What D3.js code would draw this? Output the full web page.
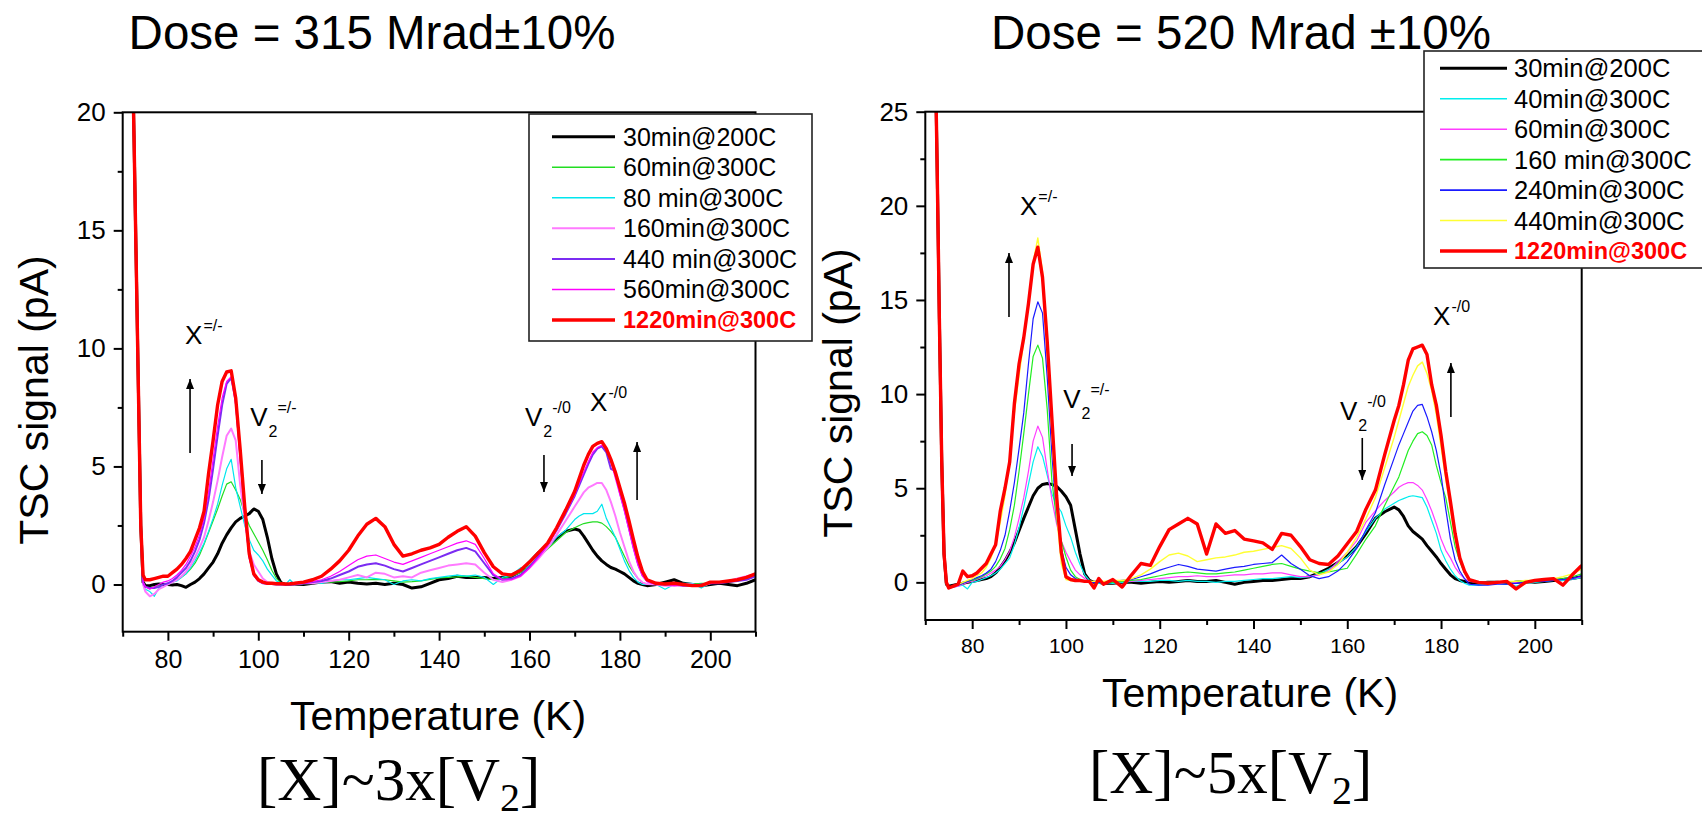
<!DOCTYPE html>
<html>
<head>
<meta charset="utf-8">
<script src="https://cdn.jsdelivr.net/npm/d3@7"></script>
<style>
  html, body { margin: 0; padding: 0; background: #ffffff; }
  svg { display: block; }
  text { font-family: "Liberation Sans", Arial, Helvetica, sans-serif; fill: #000; }
</style>
</head>
<body>
<svg id="chart" width="1702" height="825"></svg>
<script>
// ---------------------------------------------------------------
// Temperature grid (K) shared by every TSC scan
// ---------------------------------------------------------------
const temps = [
  71, 72, 72.5, 73, 73.5, 74, 74.5, 75,
  76, 77, 78, 79, 80, 81, 82, 83, 84, 85, 86, 87, 88, 89, 90, 91, 92, 93, 94, 95,
  96, 97, 98, 99, 100, 101, 102, 103, 104, 105, 106, 107, 108,
  110, 112, 114, 116, 118, 120, 122, 124, 126, 128, 130, 132, 134, 136, 138, 140,
  142, 144, 146, 148, 150, 152, 154, 156, 158, 160, 162, 164, 166, 168, 170,
  171, 172, 173, 174, 175, 176, 177, 178, 179, 180, 181, 182, 183, 184, 185, 186,
  188, 190, 192, 194, 196, 198, 200, 202, 204, 206, 208, 210
];

// ---------------------------------------------------------------
// Dose = 315 Mrad : TSC signal (pA) after each anneal step
// ---------------------------------------------------------------
const d315_30min200C = [
  35, 24, 19, 13.5, 8, 2.5, 0.1, -0.05,
  -0.05, 0, 0.02, 0, 0, -0.02, 0, -0.05, -0.12, 0, 0.1, 0.25, 0.45, 0.7, 0.95, 1.3, 1.75, 2.1, 2.4, 2.65,
  2.8, 2.9, 3.0, 3.2, 3.1, 2.75, 2.0, 1.1, 0.45, 0.08, 0, 0, 0.02,
  0, 0.05, 0.1, 0.12, 0.05, 0.1, 0.05, 0.02, 0.05, 0, 0.05, 0, -0.15, -0.1, 0.05, 0.2,
  0.25, 0.35, 0.3, 0.3, 0.3, 0.25, 0.3, 0.35, 0.55, 0.95, 1.35, 1.65, 1.95, 2.25, 2.35,
  2.3, 2.05, 1.75, 1.45, 1.2, 1.0, 0.85, 0.72, 0.65, 0.55, 0.45, 0.3, 0.15, 0.05, 0, -0.05,
  0, 0.1, 0.2, 0.05, 0, -0.05, 0, 0.05, 0, -0.05, 0.05, 0.2
];
const d315_60min300C = [
  35, 24, 19, 13.5, 8, 2.5, 0.1, -0.1,
  -0.15, -0.1, -0.05, 0, 0.05, 0.1, 0.2, 0.3, 0.45, 0.65, 0.9, 1.25, 1.7, 2.2, 2.7, 3.2, 3.75, 4.25, 4.35, 4.0,
  3.6, 3.0, 2.5, 2.15, 1.8, 1.45, 1.05, 0.6, 0.25, 0.08, 0.03, 0.02, 0.03,
  0.03, 0.05, 0.08, 0.1, 0.12, 0.15, 0.2, 0.2, 0.22, 0.2, 0.15, 0.1, 0.12, 0.15, 0.22, 0.28,
  0.3, 0.32, 0.35, 0.3, 0.25, 0.2, 0.25, 0.35, 0.5, 0.8, 1.15, 1.5, 1.85, 2.2, 2.4,
  2.5, 2.58, 2.62, 2.65, 2.65, 2.6, 2.45, 2.25, 2.0, 1.6, 1.2, 0.8, 0.5, 0.25, 0.08, 0.02,
  0, 0, 0.02, 0, 0.02, 0.05, 0.05, 0.1, 0.1, 0.15, 0.25, 0.35
];
const d315_80min300C = [
  35, 24, 19, 13.5, 8, 2.5, 0, -0.2,
  -0.3, -0.5, -0.15, -0.1, 0, 0.1, 0.15, 0.3, 0.45, 0.7, 1.0, 1.35, 1.75, 2.25, 2.8, 3.4, 4.2, 4.9, 5.3, 4.1,
  3.3, 2.5, 1.9, 1.45, 1.25, 1.0, 0.65, 0.4, 0.15, 0.05, 0, 0.2, 0,
  0.05, 0.1, 0.05, 0.15, 0.2, 0.2, 0.25, 0.3, 0.25, 0.2, 0.0, 0.15, 0.2, 0.15, 0.25, 0.3,
  0.35, 0.4, 0.35, 0.4, 0.3, 0.0, 0.3, 0.4, 0.7, 0.75, 1.2, 1.55, 2.0, 2.3, 2.75,
  2.9, 3.0, 3.0, 3.0, 3.1, 3.4, 2.8, 2.4, 2.0, 1.5, 1.0, 0.6, 0.3, 0.1, 0, 0,
  0, -0.2, 0, 0.05, 0.05, -0.15, 0.05, 0.1, 0.15, 0.2, 0.3, 0.4
];
const d315_160min300C = [
  35, 24, 19, 13.5, 8, 2.5, 0, -0.3,
  -0.5, -0.4, -0.2, -0.1, 0, 0.1, 0.2, 0.35, 0.55, 0.8, 1.15, 1.55, 2.0, 2.7, 3.5, 4.4, 5.4, 6.3, 6.6, 6.1,
  4.2, 2.8, 1.4, 0.85, 0.55, 0.25, 0.1, 0.05, 0.02, 0, 0, 0, 0,
  0.05, 0.05, 0.1, 0.15, 0.2, 0.3, 0.4, 0.3, 0.5, 0.45, 0.3, 0.35, 0.3, 0.5, 0.6, 0.7,
  0.8, 0.85, 0.9, 0.85, 0.5, 0.2, 0.1, 0.2, 0.35, 0.7, 1.1, 1.55, 2.1, 2.7, 3.3,
  3.6, 3.9, 4.1, 4.2, 4.3, 4.3, 4.0, 3.5, 2.9, 2.2, 1.6, 1.0, 0.55, 0.25, 0.08, 0.02,
  0, -0.05, -0.05, 0, 0, -0.05, 0.05, 0.1, 0.15, 0.25, 0.35, 0.45
];
const d315_440min300C = [
  35, 24, 19, 13.5, 8, 2.5, 0.1, -0.1,
  -0.15, -0.15, -0.1, 0, 0.05, 0.15, 0.3, 0.5, 0.7, 1.0, 1.4, 1.9, 2.6, 3.6, 4.9, 6.3, 7.6, 8.5, 8.75, 7.8,
  5.5, 3.1, 1.2, 0.4, 0.15, 0.05, 0.03, 0.02, 0, 0, 0, 0, 0.02,
  0.05, 0.1, 0.15, 0.25, 0.4, 0.55, 0.75, 0.85, 0.9, 0.8, 0.65, 0.55, 0.7, 0.85, 1.0, 1.15,
  1.3, 1.45, 1.55, 1.4, 0.9, 0.4, 0.2, 0.25, 0.4, 0.75, 1.2, 1.7, 2.3, 3.0, 3.75,
  4.2, 4.65, 5.1, 5.5, 5.75, 5.85, 5.6, 4.9, 4.8, 3.9, 3.2, 2.4, 1.6, 0.9, 0.4, 0.15,
  0.02, 0, 0, -0.05, -0.05, 0, 0.05, 0.05, 0.1, 0.15, 0.2, 0.35
];
const d315_560min300C = [
  35, 24, 19, 13.5, 8, 2.5, 0.1, -0.1,
  -0.2, -0.1, 0, 0.1, 0.15, 0.25, 0.4, 0.6, 0.85, 1.2, 1.6, 2.1, 2.8, 3.9, 5.3, 6.7, 7.9, 8.6, 8.8, 7.6,
  5.2, 2.9, 1.1, 0.4, 0.15, 0.05, 0.03, 0.02, 0, 0, 0, 0, 0.02,
  0.05, 0.12, 0.2, 0.35, 0.55, 0.8, 1.05, 1.2, 1.25, 1.1, 0.95, 0.85, 1.0, 1.15, 1.3, 1.45,
  1.6, 1.75, 1.85, 1.7, 1.1, 0.45, 0.2, 0.2, 0.35, 0.7, 1.15, 1.65, 2.3, 3.05, 3.8,
  4.3, 4.75, 5.2, 5.6, 5.8, 5.9, 5.7, 5.2, 4.5, 3.8, 3.1, 2.3, 1.5, 0.8, 0.35, 0.12,
  0, 0, -0.05, -0.05, 0, 0, 0.05, 0.1, 0.15, 0.2, 0.3, 0.4
];
const d315_1220min300C = [
  35, 24, 19, 13.5, 8, 2.5, 0.4, 0.2,
  0.2, 0.25, 0.3, 0.35, 0.35, 0.5, 0.65, 0.85, 1.1, 1.4, 1.9, 2.4, 3.1, 4.7, 6.1, 7.6, 8.6, 9.0, 9.05, 7.9,
  5.7, 3.3, 1.3, 0.45, 0.2, 0.1, 0.05, 0.05, 0.03, 0.03, 0.02, 0.03, 0.05,
  0.1, 0.2, 0.35, 0.65, 1.0, 1.45, 2.05, 2.55, 2.8, 2.45, 1.7, 1.2, 1.3, 1.45, 1.55, 1.7,
  2.0, 2.25, 2.45, 2.05, 1.35, 0.75, 0.45, 0.4, 0.6, 0.95, 1.35, 1.75, 2.4, 3.15, 3.95,
  4.5, 5.05, 5.5, 5.85, 5.98, 6.05, 5.75, 5.3, 4.75, 4.1, 3.45, 2.7, 1.9, 1.15, 0.55, 0.2,
  0.05, 0.02, 0.05, 0, -0.05, -0.05, 0.1, 0.1, 0.15, 0.2, 0.3, 0.45
];

// ---------------------------------------------------------------
// Dose = 520 Mrad : TSC signal (pA) after each anneal step
// ---------------------------------------------------------------
const d520_30min200C = [
  45, 30, 22.5, 14, 6.5, 1.5, -0.1, -0.2,
  -0.15, -0.1, -0.05, 0, 0.05, 0.1, 0.15, 0.2, 0.3, 0.5, 0.8, 1.15, 1.6, 2.1, 2.75, 3.4, 4.0, 4.6, 5.0, 5.2,
  5.25, 5.2, 5.1, 4.85, 4.55, 4.1, 2.8, 1.5, 0.45, 0.1, 0, 0, -0.05,
  -0.05, 0, 0, -0.05, 0, 0.05, 0, 0.05, 0.1, 0.05, 0.05, 0.1, 0, -0.1, 0, 0.05,
  0.1, 0.1, 0.15, 0.2, 0.2, 0.3, 0.5, 0.75, 1.05, 1.4, 1.9, 2.6, 3.4, 3.75, 4.0,
  3.85, 3.5, 3.0, 2.7, 2.5, 2.3, 1.95, 1.65, 1.35, 1.0, 0.7, 0.4, 0.2, 0.1, 0.05, 0,
  -0.05, 0, 0, -0.05, 0, 0.05, 0, 0.05, 0.1, 0.15, 0.2, 0.3
];
const d520_40min300C = [
  45, 30, 22.5, 14, 6.5, 1.5, -0.1, -0.3,
  -0.25, -0.2, -0.15, -0.35, 0, 0.05, 0.15, 0.25, 0.35, 0.5, 0.7, 1.0, 1.3, 2.0, 2.9, 4.0, 5.2, 6.4, 7.2, 6.7,
  5.7, 4.7, 4.1, 3.75, 3.0, 2.4, 1.6, 0.95, 0.4, 0.1, 0, -0.05, 0,
  -0.05, 0, 0.05, 0.05, 0.05, 0.1, 0.1, 0.05, 0.1, 0.05, 0.05, 0, 0.05, 0.05, 0.1, 0.15,
  0.2, 0.2, 0.25, 0.3, 0.25, 0.3, 0.45, 0.7, 1.0, 1.35, 1.9, 2.7, 3.4, 3.9, 4.2,
  4.35, 4.45, 4.55, 4.6, 4.55, 4.5, 4.0, 3.3, 2.6, 1.7, 1.15, 0.7, 0.35, 0.1, -0.05, -0.15,
  -0.15, -0.1, -0.05, -0.1, -0.2, -0.05, 0, 0.05, 0.1, 0.1, 0.15, 0.25
];
const d520_60min300C = [
  45, 30, 22.5, 14, 6.5, 1.5, -0.1, -0.3,
  -0.25, -0.2, -0.1, 0, 0.05, 0.15, 0.25, 0.35, 0.5, 0.65, 0.85, 1.2, 1.65, 2.4, 3.4, 4.5, 5.9, 7.5, 8.3, 7.7,
  6.0, 4.4, 3.1, 2.2, 1.6, 1.1, 0.65, 0.4, 0.2, 0.05, 0, 0, 0,
  0, 0.05, 0.05, 0.1, 0.15, 0.2, 0.25, 0.3, 0.3, 0.35, 0.3, 0.3, 0.35, 0.4, 0.4, 0.45,
  0.45, 0.5, 0.5, 0.4, 0.3, 0.3, 0.4, 0.6, 1.1, 1.6, 2.2, 3.2, 3.8, 4.35, 4.8,
  5.05, 5.2, 5.3, 5.3, 5.15, 4.9, 4.4, 3.8, 3.1, 2.3, 1.7, 1.3, 0.8, 0.45, 0.2, 0.05,
  0, 0, -0.05, 0, 0, 0.05, 0.05, 0.1, 0.1, 0.15, 0.2, 0.3
];
const d520_160min300C = [
  45, 30, 22.5, 14, 6.5, 1.5, -0.1, -0.3,
  -0.2, -0.15, -0.05, 0.05, 0.1, 0.2, 0.3, 0.45, 0.6, 0.85, 1.25, 1.8, 2.8, 4.1, 5.9, 7.9, 10.0, 12.0, 12.6, 11.9,
  9.2, 5.4, 3.3, 2.2, 1.35, 0.65, 0.3, 0.15, 0.1, 0.05, 0, 0, 0,
  0, 0.05, 0.1, 0.15, 0.25, 0.35, 0.45, 0.5, 0.55, 0.5, 0.45, 0.45, 0.5, 0.55, 0.65, 0.75,
  0.85, 0.95, 1.0, 0.85, 0.7, 0.6, 0.5, 0.55, 0.65, 0.75, 1.5, 2.3, 3.0, 4.1, 5.1,
  5.6, 6.3, 7.0, 7.5, 7.9, 8.0, 7.8, 7.3, 6.2, 5.3, 4.5, 3.2, 1.9, 1.1, 0.5, 0.1,
  0, -0.05, 0, 0, 0.05, 0.05, 0.05, 0.1, 0.15, 0.2, 0.3, 0.45
];
const d520_240min300C = [
  45, 30, 22.5, 14, 6.5, 1.5, -0.1, -0.3,
  -0.2, -0.15, -0.05, 0.05, 0.15, 0.25, 0.35, 0.5, 0.7, 1.1, 1.7, 2.5, 3.8, 5.3, 7.1, 9.0, 11.6, 14.0, 14.9, 14.3,
  10.9, 6.8, 3.4, 1.8, 0.8, 0.4, 0.2, 0.1, 0.05, 0, 0, 0, 0,
  0.05, 0.1, 0.15, 0.3, 0.45, 0.65, 0.8, 0.95, 0.85, 0.7, 0.65, 0.6, 0.7, 0.8, 0.85, 0.95,
  1.0, 1.05, 1.45, 1.0, 0.7, 0.35, 0.2, 0.3, 0.6, 1.1, 1.8, 2.8, 3.7, 5.2, 6.6,
  7.3, 7.9, 8.5, 9.1, 9.4, 9.45, 8.8, 8.0, 7.0, 5.7, 3.9, 2.3, 1.2, 0.6, 0.2, -0.1,
  -0.15, -0.15, -0.1, -0.1, -0.05, 0, 0.05, 0.05, 0.1, 0.15, 0.2, 0.35
];
const d520_440min300C = [
  45, 30, 22.5, 14, 6.5, 1.5, -0.1, -0.3,
  -0.2, -0.1, 0, 0.1, 0.2, 0.35, 0.5, 0.8, 1.3, 2.0, 3.2, 4.6, 6.6, 9.0, 11.0, 12.8, 14.8, 17.0, 18.3, 16.5,
  12.4, 8.0, 3.6, 1.0, 0.15, 0.1, 0.05, 0.05, 0.05, 0.05, 0.05, 0.05, 0.05,
  0.1, 0.1, 0.2, 0.4, 0.7, 1.1, 1.45, 1.55, 1.4, 1.1, 1.2, 1.3, 1.35, 1.45, 1.6, 1.65,
  1.75, 1.85, 1.95, 1.8, 1.3, 0.65, 0.4, 0.55, 0.95, 1.6, 2.4, 3.4, 4.5, 6.1, 7.7,
  8.6, 9.5, 10.4, 11.0, 11.5, 11.7, 11.1, 10.2, 8.9, 7.2, 5.5, 3.9, 2.3, 1.3, 0.6, 0.15,
  0, 0, 0, 0.05, 0.05, 0.1, 0.1, 0.15, 0.2, 0.3, 0.45, 0.7
];
const d520_1220min300C = [
  45, 30, 22.5, 14, 6.5, 1.5, 0, -0.3,
  -0.2, -0.1, 0.6, 0.3, 0.35, 0.5, 0.75, 1.0, 1.5, 2.0, 3.8, 5.0, 6.4, 9.5, 11.6, 13.0, 14.8, 16.9, 17.8, 16.2,
  12.8, 8.7, 4.6, 1.6, 0.3, 0.15, 0.1, 0.1, 0.05, 0.05, -0.3, 0.2, -0.1,
  0.15, -0.25, 0.4, 1.0, 0.9, 1.9, 2.8, 3.1, 3.4, 3.1, 1.5, 3.1, 2.6, 2.75, 2.3, 2.2,
  2.1, 1.75, 2.6, 2.5, 1.9, 1.2, 1.0, 0.95, 1.4, 2.05, 2.7, 3.9, 4.9, 6.8, 8.6,
  9.4, 10.5, 11.8, 12.4, 12.5, 12.6, 12.1, 10.5, 9.4, 7.8, 5.9, 4.3, 2.6, 1.3, 0.6, 0.15,
  0, -0.05, 0, 0.05, -0.35, 0, 0.1, 0.15, 0.2, -0.15, 0.4, 0.9
];

// Legend text, tick values and titles
const d315Labels = ["30min@200C", "60min@300C", "80 min@300C", "160min@300C", "440 min@300C", "560min@300C", "1220min@300C"];
const d520Labels = ["30min@200C", "40min@300C", "60min@300C", "160 min@300C", "240min@300C", "440min@300C", "1220min@300C"];
const tempDomain = [70, 210];
const tempMajorTicks = [80, 100, 120, 140, 160, 180, 200];
const tempMinorTicks = [70, 90, 110, 130, 150, 170, 190, 210];
const d315SignalDomain = [-2, 20];
const d315MajorTicks = [0, 5, 10, 15, 20];
const d315MinorTicks = [2.5, 7.5, 12.5, 17.5];
const d520SignalDomain = [-2, 25];
const d520MajorTicks = [0, 5, 10, 15, 20, 25];
const d520MinorTicks = [2.5, 7.5, 12.5, 17.5, 22.5];

// Line styles per scan
const d315Colors = ["#000000", "#22dd22", "#00e6ee", "#ff7aff", "#7b2cf2", "#ff00ff", "#ff0000"];
const d315Widths = [3, 1.2, 1.2, 2, 2, 1.2, 3.4];
const d520Colors = ["#000000", "#00eeee", "#ff3cff", "#22ee22", "#1a1aff", "#ffff33", "#ff0000"];
const d520Widths = [3, 1.2, 1.2, 1.2, 1.2, 1.4, 3.4];

const svg = d3.select("#chart");
const defs = svg.append("defs");
defs.append("marker")
  .attr("id", "arrowhead")
  .attr("viewBox", "0 0 10 8")
  .attr("refX", 10).attr("refY", 4)
  .attr("markerUnits", "userSpaceOnUse")
  .attr("markerWidth", 11).attr("markerHeight", 8)
  .attr("orient", "auto")
  .append("path").attr("d", "M0,0 L10,4 L0,8 Z").attr("fill", "#000");

function drawPanel(p) {
  const x = d3.scaleLinear().domain(tempDomain).range(p.xRange);
  const y = d3.scaleLinear().domain(p.yDomain).range(p.yRange);
  const g = svg.append("g");

  defs.append("clipPath").attr("id", p.id + "-clip")
    .append("rect")
    .attr("x", p.xRange[0]).attr("y", p.yRange[1])
    .attr("width", p.xRange[1] - p.xRange[0])
    .attr("height", p.yRange[0] - p.yRange[1]);

  // bottom axis: major + minor ticks
  const gxMajor = g.append("g").attr("transform", `translate(0,${p.yRange[0]})`)
    .call(d3.axisBottom(x).tickValues(tempMajorTicks).tickSize(9).tickPadding(p.xTickPad).tickFormat(d3.format("d")));
  const gxMinor = g.append("g").attr("transform", `translate(0,${p.yRange[0]})`)
    .call(d3.axisBottom(x).tickValues(tempMinorTicks).tickSize(5).tickFormat(""));
  // left axis: major + minor ticks
  const gyMajor = g.append("g").attr("transform", `translate(${p.xRange[0]},0)`)
    .call(d3.axisLeft(y).tickValues(p.yMajor).tickSize(9).tickPadding(p.yTickPad).tickFormat(d3.format("d")));
  const gyMinor = g.append("g").attr("transform", `translate(${p.xRange[0]},0)`)
    .call(d3.axisLeft(y).tickValues(p.yMinor).tickSize(5).tickFormat(""));

  [gxMajor, gxMinor, gyMajor, gyMinor].forEach(a => {
    a.attr("font-family", null).attr("font-size", null);
    a.select(".domain").remove();
    a.selectAll(".tick line").attr("stroke", "#000").attr("stroke-width", 2);
  });
  gxMajor.selectAll("text").style("font-size", p.xTickFont + "px");
  gyMajor.selectAll("text").style("font-size", p.yTickFont + "px");

  // scan curves
  const line = d3.line().x(d => x(d[0])).y(d => y(d[1])).defined(d => d[1] != null);
  g.append("g").attr("clip-path", `url(#${p.id}-clip)`)
    .selectAll("path").data(p.series).join("path")
    .attr("d", s => line(temps.map((t, i) => [t, s.values[i]])))
    .attr("fill", "none")
    .attr("stroke", s => s.color)
    .attr("stroke-width", s => s.width)
    .attr("stroke-linejoin", "round");

  // plot frame
  g.append("rect")
    .attr("x", p.xRange[0]).attr("y", p.yRange[1])
    .attr("width", p.xRange[1] - p.xRange[0])
    .attr("height", p.yRange[0] - p.yRange[1])
    .attr("fill", "none").attr("stroke", "#000").attr("stroke-width", 2);

  // legend
  const L = p.legend;
  const lg = g.append("g");
  lg.append("rect").attr("x", L.x).attr("y", L.y).attr("width", L.w).attr("height", L.h)
    .attr("fill", "#fff").attr("stroke", "#222").attr("stroke-width", 1.6);
  const rows = lg.selectAll("g.row").data(p.series).join("g").attr("class", "row")
    .attr("transform", (s, i) => `translate(0,${L.row0 + i * L.step})`);
  rows.append("line").attr("x1", L.line0).attr("x2", L.line1)
    .attr("stroke", s => s.color).attr("stroke-width", s => Math.max(s.width, 1.6));
  rows.append("text").attr("x", L.text).attr("dy", "0.36em")
    .style("font-size", s => (s.highlight ? L.boldFont : L.font) + "px")
    .style("font-weight", s => s.highlight ? "bold" : "normal")
    .style("fill", s => s.highlight ? "#ff0000" : "#000")
    .text(s => s.name);

  // axis titles
  g.append("text").attr("x", p.xLabel[0]).attr("y", p.xLabel[1])
    .attr("text-anchor", "middle").style("font-size", p.labelFont + "px")
    .text("Temperature (K)");
  g.append("text")
    .attr("transform", `translate(${p.yLabel[0]},${p.yLabel[1]}) rotate(-90)`)
    .attr("text-anchor", "middle").style("font-size", p.labelFont + "px")
    .text("TSC signal (pA)");

  // panel title
  g.append("text").attr("x", p.title[0]).attr("y", p.title[1])
    .attr("text-anchor", "middle").style("font-size", "47.5px")
    .text(p.titleText);

  // concentration ratio underneath
  const f = g.append("text").attr("x", p.formula[0]).attr("y", p.formula[1])
    .style("font-family", "'Liberation Serif', 'Times New Roman', serif")
    .style("font-size", "61px");
  f.append("tspan").text(p.formulaText);
  f.append("tspan").attr("dy", 11).style("font-size", "40px").text("2");
  f.append("tspan").attr("dy", -11).text("]");

  // defect labels
  p.notes.forEach(n => {
    const px = x(n.t), py = y(n.v);
    const base = g.append("text").attr("x", px).attr("y", py)
      .style("font-size", "26px").text(n.base);
    const w = base.node().getComputedTextLength();
    let subW = 0;
    if (n.sub) {
      const s = g.append("text").attr("x", px + w + 1).attr("y", py + 11)
        .style("font-size", "16px").text(n.sub);
      subW = s.node().getComputedTextLength();
    }
    g.append("text").attr("x", px + w + (n.sub ? subW + 1 : 1)).attr("y", py - 13)
      .style("font-size", "16px").text(n.sup);
  });

  // arrows (tip at the second value)
  g.selectAll("line.arrow").data(p.arrows).join("line").attr("class", "arrow")
    .attr("x1", a => x(a.t)).attr("x2", a => x(a.t))
    .attr("y1", a => y(a.from)).attr("y2", a => y(a.to))
    .attr("stroke", "#000").attr("stroke-width", 1.6)
    .attr("marker-end", "url(#arrowhead)");
}

function makeSeries(labels, values, colors, widths) {
  return labels.map((name, i) => ({
    name, values: values[i], color: colors[i], width: widths[i],
    highlight: i === labels.length - 1
  }));
}

drawPanel({
  id: "d315",
  titleText: "Dose = 315 Mrad\u00B110%",
  title: [372, 49],
  xRange: [122.7, 755.5],
  yRange: [631.7, 112.3],
  yDomain: d315SignalDomain,
  yMajor: d315MajorTicks,
  yMinor: d315MinorTicks,
  xTickFont: 25, xTickPad: 10,
  yTickFont: 26, yTickPad: 8,
  labelFont: 41,
  xLabel: [438, 730],
  yLabel: [48, 400],
  formulaText: "[X]~3x[V",
  formula: [257, 800],
  series: makeSeries(d315Labels,
    [d315_30min200C, d315_60min300C, d315_80min300C, d315_160min300C, d315_440min300C, d315_560min300C, d315_1220min300C],
    d315Colors, d315Widths),
  legend: { x: 529, y: 114, w: 283, h: 227, row0: 136.7, step: 30.55, line0: 552, line1: 615, text: 623, font: 25, boldFont: 23.5 },
  notes: [
    { t: 83.8, v: 10.2, base: "X", sup: "=/-" },
    { t: 98.2, v: 6.7, base: "V", sub: "2", sup: "=/-" },
    { t: 159.0, v: 6.7, base: "V", sub: "2", sup: "-/0" },
    { t: 173.4, v: 7.35, base: "X", sup: "-/0" }
  ],
  arrows: [
    { t: 84.9, from: 5.57, to: 8.7 },
    { t: 100.8, from: 5.27, to: 3.83 },
    { t: 163.2, from: 5.48, to: 3.92 },
    { t: 183.8, from: 3.58, to: 6.04 }
  ]
});

drawPanel({
  id: "d520",
  titleText: "Dose = 520 Mrad \u00B110%",
  title: [1241, 49],
  xRange: [925.3, 1581.7],
  yRange: [620, 111.7],
  yDomain: d520SignalDomain,
  yMajor: d520MajorTicks,
  yMinor: d520MinorTicks,
  xTickFont: 21, xTickPad: 9,
  yTickFont: 26, yTickPad: 8,
  labelFont: 41,
  xLabel: [1250, 707],
  yLabel: [852, 393],
  formulaText: "[X]~5x[V",
  formula: [1089, 793],
  series: makeSeries(d520Labels,
    [d520_30min200C, d520_40min300C, d520_60min300C, d520_160min300C, d520_240min300C, d520_440min300C, d520_1220min300C],
    d520Colors, d520Widths),
  legend: { x: 1424, y: 51, w: 290, h: 217, row0: 68.3, step: 30.45, line0: 1440, line1: 1507, text: 1514, font: 25.5, boldFont: 23.5 },
  notes: [
    { t: 90.2, v: 19.5, base: "X", sup: "=/-" },
    { t: 99.4, v: 9.26, base: "V", sub: "2", sup: "=/-" },
    { t: 158.45, v: 8.62, base: "V", sub: "2", sup: "-/0" },
    { t: 178.3, v: 13.67, base: "X", sup: "-/0" }
  ],
  arrows: [
    { t: 87.85, from: 14.09, to: 17.49 },
    { t: 101.3, from: 7.35, to: 5.65 },
    { t: 163.2, from: 7.67, to: 5.44 },
    { t: 182.1, from: 8.78, to: 11.65 }
  ]
});
</script>
</body>
</html>
